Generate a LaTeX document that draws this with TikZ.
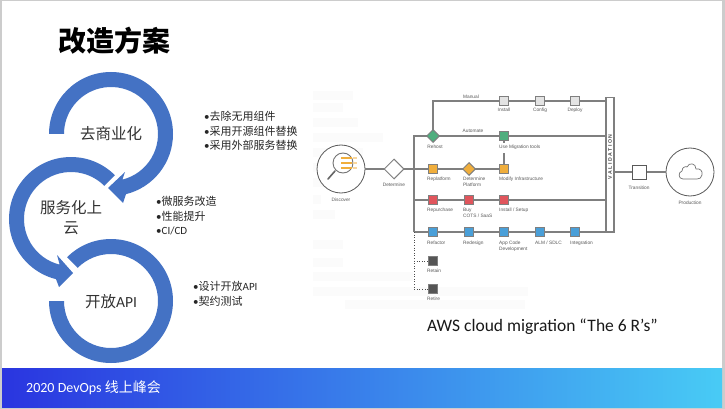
\documentclass[tikz,border=0pt]{standalone}
\usepackage{fontspec}
\setmainfont{Carlito}
\newfontfamily\cjk{Noto Sans CJK SC}
\newfontfamily\lib{Liberation Sans}
\usetikzlibrary{calc,shapes.geometric}
\definecolor{ringblue}{HTML}{4472C4}
\definecolor{wire}{HTML}{7F7F7F}
\definecolor{cGray}{HTML}{E3E3E3}
\definecolor{cGreen}{HTML}{4FAE7E}
\definecolor{cOrange}{HTML}{F0AE3C}
\definecolor{cRed}{HTML}{E0555C}
\definecolor{cBlue}{HTML}{4A9FD8}
\definecolor{cDark}{HTML}{555555}
\definecolor{faint}{HTML}{FBFBFB}
\newcommand{\bul}{{\rmfamily\fontsize{11}{14}\selectfont •}}
\tikzset{
  ringlabel/.style={font=\cjk\fontsize{15.5}{19.5}\selectfont,text=black!80,align=center,inner sep=0pt},
  bullet/.style={font=\cjk\fontsize{11}{14.6}\selectfont,text=black!85,align=left,anchor=west,inner sep=0pt},
  sq/.style={draw=wire,line width=1pt,minimum size=9pt,inner sep=0pt,fill=#1},
  dm/.style={draw=wire,line width=1pt,diamond,aspect=1,minimum size=13pt,inner sep=0pt,fill=#1},
  tag/.style={font=\lib\fontsize{4.8}{6}\selectfont,text=black!65,anchor=west,inner sep=0pt,align=left},
  ctag/.style={font=\lib\fontsize{4.8}{6}\selectfont,text=black!65,inner sep=0pt},
  wireline/.style={draw=wire,line width=1.3pt},
  dotline/.style={draw=black!70,line width=.9pt,dash pattern=on 1pt off 1.6pt},
  bigcircle/.style={circle,draw=black!65,line width=.8pt,minimum size=48pt,inner sep=0pt,fill=white},
}
\begin{document}
\begin{tikzpicture}[x=1pt,y=-1pt]
\useasboundingbox (0,0) rectangle (725,409);
\fill[black!20] (0,0) rectangle (725,409);
\fill[white] (2,1) rectangle (722,407);
% footer
\shade[left color={rgb,255:red,42;green,53;blue,224},right color={rgb,255:red,72;green,203;blue,245}] (2,368) rectangle (722,407);
\node[anchor=west,inner sep=0pt,text=white] (foot) at (26,388) {\fontsize{14}{16}\selectfont\rmfamily 2020 DevOps \cjk 线上峰会};
% title
\node[inner sep=0pt,font=\cjk\bfseries\fontsize{28}{32}\selectfont] (title) at (114,41) {改造方案};
% faint background
\foreach \x/\y/\w in {313/91/40,313/103/30,313/118/45,313/133/70,313/148/50,313/163/10,313/178/20,313/195/8,313/210/22,313/240/30,313/258/30,313/272/100,313/287/215,345/300/180}
  \fill[faint] (\x,\y) rectangle ++(\w,9);
% rings
\fill[ringblue] (49,134) arc[start angle=180,end angle=-76,radius=62pt]
  -- (123,203) -- (108,188) -- (125,172)
  -- ({111+47*cos(-76)},{134-47*sin(-76)}) arc[start angle=-76,end angle=180,radius=47pt] -- cycle;
\fill[ringblue] ({71+62*cos(45)},{219-62*sin(45)}) arc[start angle=45,end angle=256,radius=62pt]
  -- (59,287) -- (73,273) -- (57,255)
  -- ({71+47*cos(256)},{219-47*sin(256)}) arc[start angle=256,end angle=45,radius=47pt] -- cycle;
\fill[ringblue] ({111+62*cos(135)},{301-62*sin(135)}) arc[start angle=135,end angle=-180,radius=62pt]
  -- (64,301) arc[start angle=-180,end angle=135,radius=47pt] -- cycle;
\node[ringlabel] (r1) at (111,134) {去商业化};
\node[ringlabel] (r2) at (71,217.5) {服务化上\\云};
\node[ringlabel] (r3) at (111,302) {开放\rmfamily API};
% bullets
\node[bullet] (b1) at (204,131) {\bul 去除无用组件\\\bul 采用开源组件替换\\\bul 采用外部服务替换};
\node[bullet] (b2) at (156,216) {\bul 微服务改造\\\bul 性能提升\\\bul \rmfamily CI/CD};
\node[bullet] (b3) at (193,294) {\bul 设计开放\rmfamily API\\\bul 契约测试};
\node[anchor=west,inner sep=0pt,font=\fontsize{17.5}{20}\selectfont,text=black!90] (cap) at (427,327) {AWS cloud migration “The 6 R’s”};
% AWS diagram nodes
\node[bigcircle] (disc) at (341,169) {};
\coordinate (det) at (394,169);
\coordinate (busT) at (414,136);
\coordinate (busM) at (414,169);
\coordinate (busR) at (414,200);
\coordinate (busB) at (414,232);
\coordinate (busE) at (414,289);
\coordinate (busRt) at (414,261);
\coordinate (corner) at (433,101);
\node[draw=wire,line width=1.3pt,minimum width=8pt,minimum height=135pt,inner sep=0pt,fill=white,anchor=north] (val) at (610,97) {};
\node[rotate=90,font=\lib\bfseries\fontsize{5.2}{6}\selectfont,text=black!70,inner sep=0pt] (valt) at (610,157) {V A L I D A T I O N};
\coordinate (mE) at (606,101);
\coordinate (aE) at (606,136);
\coordinate (rE) at (606,200);
\coordinate (bE) at (614,232);
\coordinate (inst) at (504,101);
\coordinate (conf) at (540,101);
\coordinate (depl) at (575,101);
\coordinate (rehost) at (433,136);
\coordinate (mig) at (504,136);
\coordinate (repl) at (433,169);
\coordinate (dplat) at (469,169);
\coordinate (modi) at (504,169);
\coordinate (rep1) at (433,200);
\coordinate (rep2) at (469,200);
\coordinate (rep3) at (504,200);
\coordinate (ref1) at (433,232);
\coordinate (ref2) at (469,232);
\coordinate (ref3) at (504,232);
\coordinate (ref4) at (540,232);
\coordinate (ref5) at (575,232);
\coordinate (ret) at (433,261);
\coordinate (rei) at (433,289);
\node[bigcircle] (prod) at (690,172) {};
\coordinate (trans) at (639,172);
\coordinate (valO) at (614,172);
\coordinate (tickE) at (504,143);
\coordinate (modT) at (504,153);
% connectors
\draw[wireline] (disc) -- (det);
\draw[wireline] (det) -- (busM) -- (repl) -- (dplat) -- (modi);
\draw[wireline] (rehost) -- (corner) -- (inst) -- (conf) -- (depl) -- (mE);
\draw[wireline] (busB) -- (busT) -- (rehost) -- (mig) -- (aE);
\draw[wireline] (busR) -- (rep1) -- (rep2) -- (rep3) -- (rE);
\draw[wireline] (busB) -- (ref1) -- (ref2) -- (ref3) -- (ref4) -- (ref5) -- (bE);
\draw[wireline] (mig) -- (tickE);
\draw[wireline] (modT) -- (modi);
\draw[wireline] (valO) -- (trans) -- (prod);
\draw[dotline] (busB) -- (busE) -- (rei);
\draw[dotline] (busRt) -- (ret);
% marks over wires
\foreach \n/\c in {inst/cGray,conf/cGray,depl/cGray,mig/cGreen,repl/cOrange,modi/cOrange,rep1/cRed,rep2/cRed,rep3/cRed,ref1/cBlue,ref2/cBlue,ref3/cBlue,ref4/cBlue,ref5/cBlue,ret/cDark,rei/cDark}
  \node[sq=\c] at (\n) {};
\node[dm=cGreen] at (rehost) {};
\node[dm=cOrange] at (dplat) {};
\node[dm=white,minimum size=20pt] at (det) {};
\node[draw=black!65,line width=1pt,minimum size=14pt,inner sep=0pt,fill=white] at (trans) {};
% labels
\node[ctag] (lman) at (471,97) {Manual};
\node[ctag] (laut) at (473,131) {Automate};
\node[ctag] (lins) at (504,110) {Install};
\node[ctag] (lcon) at (540,110) {Config};
\node[ctag] (ldep) at (575,110) {Deploy};
\node[ctag] (lreh) at (435,147) {Rehost};
\node[tag] (lmig) at (499,147) {Use Migration tools};
\node[tag] (lrep) at (427,179) {Replatform};
\node[tag] (ldet) at (463,182) {Determine\\Platform};
\node[tag] (lmod) at (499,179) {Modify Infrastructure};
\node[tag] (lpur) at (427,210) {Repurchase};
\node[tag] (lbuy) at (463,213) {Buy\\COTS / SaaS};
\node[tag] (lset) at (499,210) {Install / Setup};
\node[tag] (lf1) at (427,243) {Refactor};
\node[tag] (lf2) at (463,243) {Redesign};
\node[tag] (lf3) at (499,246) {App Code\\Development};
\node[tag] (lf4) at (535,243) {ALM / SDLC};
\node[tag] (lf5) at (570,243) {Integration};
\node[tag] (lret) at (427,271) {Retain};
\node[tag] (lrei) at (427,299) {Retire};
\node[ctag] (ldis) at (341,200) {Discover};
\node[ctag] (ldt) at (394,185) {Determine};
\node[ctag] (ltr) at (639,188) {Transition};
\node[ctag] (lpr) at (690,203) {Production};
% magnifier
\draw[black!60,line width=1.6pt,line cap=round] (335,171) -- (328,179);
\draw[black!55,line width=.9pt] (343,163) circle[radius=10pt];
\foreach \y in {158,163,168}{
  \fill[cOrange] (341,\y-1.2) rectangle (352,\y+1.2);
  \fill[cOrange!50!white] (352.5,\y-1.2) rectangle (357,\y+1.2);
}
% cloud
\draw[black!55,line width=.7pt,line join=round]
 (683,179) .. controls (678,179) and (678,172) .. (682,171)
 .. controls (682,167) and (686,166) .. (687,167)
 .. controls (689,162) and (696,163) .. (696,169)
 .. controls (700,168) and (703,171) .. (702,175)
 .. controls (702,178) and (699,179) .. (697,179) -- cycle;
\end{tikzpicture}
\end{document}
